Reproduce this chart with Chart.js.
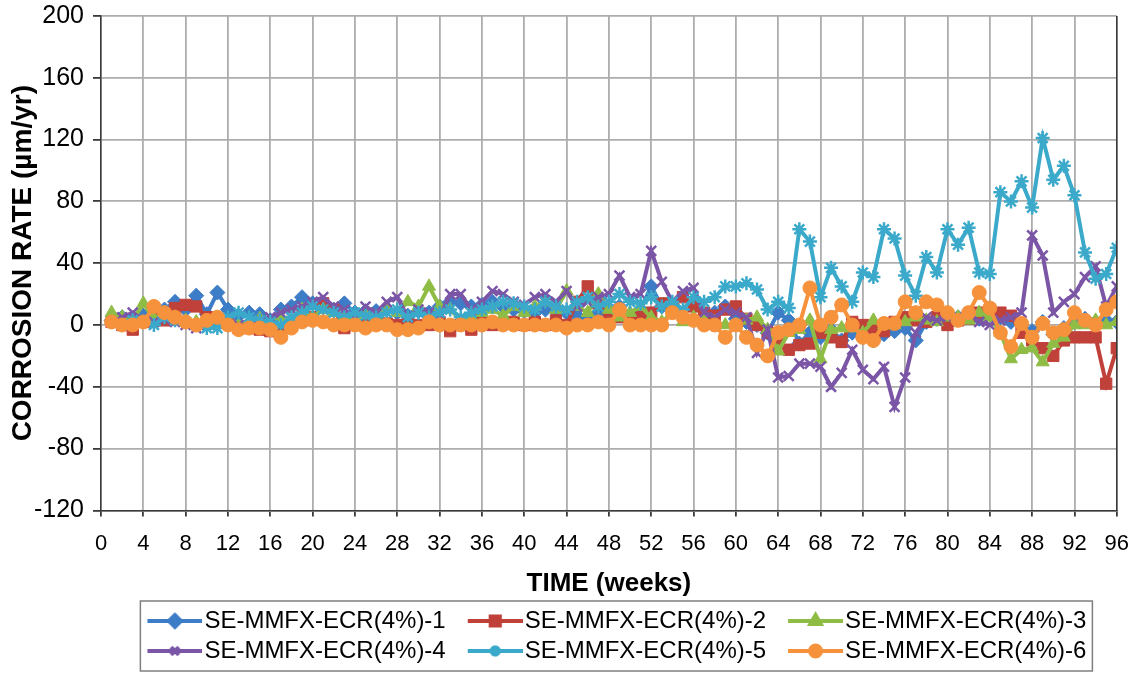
<!DOCTYPE html>
<html>
<head>
<meta charset="utf-8">
<script src="https://cdn.jsdelivr.net/npm/chart.js@4.4.0/dist/chart.umd.min.js"></script>
<style>
  html, body { margin: 0; padding: 0; background: #fff; }
  #wrap { width: 1143px; height: 679px; }
</style>
</head>
<body>
<div id="wrap"><canvas id="myChart" width="1143" height="679"></canvas></div>
<script>
// weeks 1..96
const weeks = Array.from({length: 96}, (_, i) => i + 1);

const seriesNames = [
  "SE-MMFX-ECR(4%)-1", "SE-MMFX-ECR(4%)-2", "SE-MMFX-ECR(4%)-3",
  "SE-MMFX-ECR(4%)-4", "SE-MMFX-ECR(4%)-5", "SE-MMFX-ECR(4%)-6"
];

const ecr1 = [3, 5, 4, 6, 8, 10, 15, 10, 19, 7,
  21, 10, 6, 8, 7, 3, 10, 12, 18, 14,
  13, 10, 14, 8, 9, 9, 10, 8, 6, 9,
  8, 12, 15, 14, 12, 13, 15, 12, 10, 9,
  8, 10, 9, 8, 6, 5, 8, 10, 12, 6,
  10, 25, 12, 9, 6, 4, 5, 8, 12, 4,
  2, 0, -5, 8, 3, -12, -5, -8, -3, -10,
  -5, -8, -10, -6, -4, -2, -10, 2, 4, 3,
  5, 6, 4, 10, 5, 2, 0, -4, 2, -6,
  -2, 2, 4, 2, 3, 2];

const ecr2 = [2, 0, -3, 2, 5, 3, 11, 13, 12, 5,
  4, 2, -2, -2, -3, -4, -5, 2, 3, 5,
  14, 10, -2, 0, 2, 3, 1, 0, 2, 0,
  0, 2, -4, 0, -3, 2, 0, 1, 2, 0,
  2, 0, 3, 0, 15, 25, 14, 8, 5, 3,
  5, 8, 14, 12, 18, 12, 8, 6, 10, 12,
  4, 0, -5, -12, -16, -13, -12, -5, -8, -11,
  2, 0, -2, -4, 2, 5, 3, 2, 5, 0,
  3, 4, 8, 10, 8, 6, -5, -10, -15, -20,
  -10, -8, -8, -8, -38, -15];

const ecr3 = [8, 5, 3, 14, 4, 8, 5, 3, 2, 2,
  5, 3, 0, 2, 4, 0, 5, 2, 10, 5,
  10, 8, 5, 3, 7, 5, 10, 8, 15, 12,
  25, 12, 10, 3, 5, 8, 10, 6, 12, 8,
  12, 15, 10, 22, 12, 8, 20, 10, 5, 8,
  12, 5, 2, 8, 2, 5, 3, 2, 0, 0,
  3, 5, -3, -17, -5, -3, 3, -22, -3, -2,
  -2, -5, 3, 0, 0, 2, 5, 3, 2, 5,
  5, 3, 8, 5, -5, -22, -16, -15, -24, -12,
  -8, 0, 0, 3, 0, 2];

const ecr4 = [2, 5, 8, 3, 2, 4, 2, 0, -2, 0,
  3, 2, 0, 0, 3, 5, 8, 10, 12, 15,
  18, 12, 10, 5, 12, 8, 15, 18, 5, 10,
  8, 5, 20, 20, 10, 15, 22, 20, 15, 13,
  18, 20, 15, 22, 12, 15, 18, 20, 32, 18,
  20, 48, 28, 15, 22, 24, 8, 5, 10, 8,
  5, -18, -3, -34, -33, -25, -25, -27, -40, -31,
  -16, -29, -35, -27, -53, -34, -5, 5, 3, 5,
  5, 8, 2, 0, 3, 5, 8, 58, 45, 8,
  15, 20, 31, 38, 12, 25];

const ecr5 = [2, 0, 3, 2, 0, 5, 3, 2, 0, -2,
  -2, 5, 8, 5, 3, 2, 0, 5, 8, 12,
  10, 8, 5, 8, 6, 5, 8, 10, 5, 8,
  5, 8, 10, 5, 8, 10, 12, 15, 14, 12,
  10, 15, 12, 10, 15, 18, 12, 15, 20, 15,
  14, 18, 12, 15, 10, 18, 15, 18, 25, 25,
  27, 23, 10, 15, 11, 62, 54, 18, 37, 25,
  15, 34, 31, 62, 56, 32, 19, 44, 34, 62,
  52, 63, 34, 33, 86, 80, 93, 76, 121, 94,
  103, 84, 47, 30, 33, 50];

const ecr6 = [2, 0, 0, 2, 12, 8, 5, 2, 0, 3,
  5, 0, -3, -2, -2, -3, -8, -2, 2, 3,
  2, 0, 0, 0, -2, 0, 0, -3, -3, -2,
  2, 0, 0, 0, 0, 0, 2, 0, 0, 0,
  0, 0, 0, -2, 0, 0, 2, 0, 10, 0,
  0, 0, 0, 8, 5, 3, 0, 0, -8, 0,
  -8, -13, -20, -5, -3, 0, 24, 0, 5, 13,
  0, -8, -10, 1, 1, 15, 8, 15, 13, 8,
  3, 8, 21, 11, -5, -14, 1, -8, 1, -5,
  -3, 8, 3, 0, 10, 15];

const allSeries = [ecr1, ecr2, ecr3, ecr4, ecr5, ecr6];
const colors = ["#3d7cc6", "#c0403a", "#8fbc45", "#7b55a6", "#3ba9ca", "#f6923c"];
const markers = ["rectRot", "rect", "triangle", "crossRot", "star", "circle"];
const markerSize = [7.5, 8, 7.5, 7, 7, 7];

const xMin = 0, xMax = 96, xStep = 4;
const yMin = -120, yMax = 200, yStep = 40;

const FONT = "'Liberation Sans', Arial, sans-serif";
const LEG_BOX = 61;   // legend box width chart.js reserves
const SYM_W = 81;     // symbol picture width (left part transparent)
const SYM_LINE = 55;  // visible line length

// little line+marker picture for the legend
function legendSymbol(color, style, size) {
  const c = document.createElement('canvas');
  c.width = SYM_W; c.height = 20;
  const ctx = c.getContext('2d');
  const x0 = SYM_W - SYM_LINE;
  ctx.strokeStyle = color;
  ctx.lineWidth = 4;
  ctx.beginPath();
  ctx.moveTo(x0, 10); ctx.lineTo(SYM_W, 10);
  ctx.stroke();
  ctx.fillStyle = color;
  Chart.helpers.drawPoint(ctx, {pointStyle: style, radius: size - 1.5, rotation: 0, borderWidth: 2}, x0 + SYM_LINE / 2, 10);
  return c;
}

const datasets = allSeries.map((vals, i) => ({
  label: seriesNames[i],
  data: vals.map((v, k) => ({x: weeks[k], y: v})),
  borderColor: colors[i],
  backgroundColor: colors[i],
  borderWidth: 4,
  pointStyle: markers[i],
  pointRadius: markerSize[i],
  pointBackgroundColor: colors[i],
  pointBorderColor: colors[i],
  pointBorderWidth: (markers[i] === 'crossRot' || markers[i] === 'star') ? 2.5 : 1,
  tension: 0,
  order: 6 - i
}));

const frames = {
  id: 'frames',
  afterDraw(chart) {
    const ctx = chart.ctx;
    const a = chart.chartArea;
    ctx.save();
    ctx.strokeStyle = '#3a3a3a';
    ctx.lineWidth = 1.5;
    ctx.beginPath();
    ctx.moveTo(a.right, a.top);
    ctx.lineTo(a.right, a.bottom);
    ctx.stroke();
    // box round the legend
    const boxes = chart.legend.legendHitBoxes;
    if (boxes && boxes.length) {
      let l = Infinity, t = Infinity, r = -Infinity, b = -Infinity;
      boxes.forEach(h => {
        l = Math.min(l, h.left); t = Math.min(t, h.top);
        r = Math.max(r, h.left + h.width); b = Math.max(b, h.top + h.height);
      });
      const symStart = LEG_BOX / 2 - SYM_W / 2 + (SYM_W - SYM_LINE);
      ctx.strokeStyle = '#7f7f7f';
      ctx.lineWidth = 1.5;
      ctx.strokeRect(l + symStart - 7, t - 8, (r + 6) - (l + symStart - 7), (b - t) + 16);
    }
    ctx.restore();
  }
};

var ctx = document.getElementById("myChart").getContext('2d');
var myChart = new Chart(ctx, {
  type: 'line',
  data: { datasets: datasets },
  plugins: [frames],
  options: {
    responsive: false,
    animation: false,
    layout: { padding: { left: 0, right: 26, top: 3, bottom: 6 } },
    plugins: {
      tooltip: { enabled: false },
      legend: {
        position: 'bottom',
        fullSize: false,
        labels: {
          usePointStyle: true,
          pointStyleWidth: LEG_BOX,
          color: '#000',
          font: { family: FONT, size: 24 },
          padding: 6,
          sort: (a, b) => a.datasetIndex - b.datasetIndex,
          generateLabels(chart) {
            return chart.data.datasets.map((ds, i) => ({
              text: ds.label,
              datasetIndex: i,
              fontColor: '#000',
              pointStyle: legendSymbol(colors[i], markers[i], markerSize[i]),
              lineWidth: 0,
              strokeStyle: colors[i],
              fillStyle: colors[i],
              hidden: false
            }));
          }
        }
      }
    },
    scales: {
      x: {
        type: 'linear',
        min: xMin, max: xMax,
        ticks: {
          stepSize: xStep,
          color: '#000',
          font: { family: FONT, size: 22 },
          maxRotation: 0,
          padding: 14
        },
        grid: { color: '#adadad', lineWidth: 1.8, tickLength: 6, tickColor: '#3a3a3a' },
        border: { color: '#3a3a3a', width: 1.5 },
        title: {
          display: true,
          text: 'TIME (weeks)',
          color: '#000',
          font: { family: FONT, size: 26, weight: 'bold' },
          padding: { top: -3, bottom: 4 }
        }
      },
      y: {
        min: yMin, max: yMax,
        afterFit(scale) {
          scale.width = 101;
          scale.paddingTop = 16;
          scale.paddingBottom = 0;
        },
        ticks: {
          stepSize: yStep,
          color: '#000',
          font: { family: FONT, size: 25 },
          padding: 9
        },
        grid: { color: '#adadad', lineWidth: 1.8, tickLength: 8, tickColor: '#3a3a3a' },
        border: { color: '#3a3a3a', width: 1.5 },
        title: {
          display: true,
          text: 'CORROSION RATE (µm/yr)',
          color: '#000',
          font: { family: FONT, size: 28, weight: 'bold' },
          padding: { top: 6, bottom: 0 }
        }
      }
    }
  }
});
</script>
</body>
</html>
